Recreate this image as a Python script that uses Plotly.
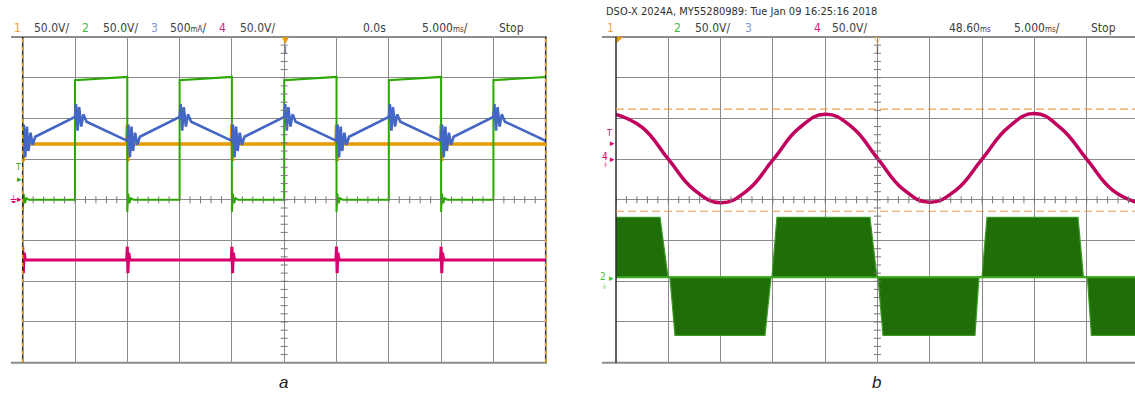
import plotly.graph_objects as go

W, H = 1135, 394

# ---------------- DATA ----------------
# Panel a: time in ms (5 ms/div, centred on 0.0 s), amplitude in screen divisions
a_time_range = [-25, 25]
green_fall_ms = [-25, -15, -5, 5, 15]
green_rise_ms = [-20, -10, 0, 10, 20]
green_low = 0.0
green_high_start = 2.94
green_high_end = 3.02
green_ring_dt = [0.0, 0.08, 0.2, 0.35, 0.6]
green_ring_val = [-0.3, 0.15, -0.08, 0.04, 0.0]

orange_level = 1.37
orange_spike_dt = [-0.06, 0.0, 0.06, 0.14, 0.24]
orange_spike_val = [1.37, 1.85, 0.95, 1.6, 1.37]

blue_dt = [0.0, 0.1, 0.25, 0.4, 0.55, 0.75, 0.95, 1.2, 5.0, 5.1, 5.25, 5.4, 5.6, 5.8, 6.1, 10.0]
blue_val = [1.45, 1.85, 1.05, 1.8, 1.2, 1.65, 1.35, 1.55, 2.04, 2.35, 1.7, 2.28, 1.8, 2.1, 1.92, 1.45]

pink_level = -1.48
pink_spike_dt = [-0.06, 0.0, 0.06, 0.14, 0.25]
pink_spike_val = [-1.48, -1.15, -1.8, -1.3, -1.48]

# Panel b: time in ms (5 ms/div, delay 48.60 ms)
b_time_range = [23.6, 73.22]
sine_t = [23.6, 26.1, 28.6, 31.1, 33.6, 36.1, 38.6, 41.1, 43.6, 46.1, 48.6,
          51.1, 53.6, 56.1, 58.6, 61.1, 63.6, 66.1, 68.6, 71.1, 73.6]
sine_v = [2.10, 1.78, 1.0, 0.24, -0.07, 0.22, 0.98, 1.76, 2.10, 1.80, 1.02,
          0.25, -0.06, 0.24, 1.0, 1.78, 2.12, 1.77, 1.0, 0.23, -0.08]

ch2b_zero = -1.9
ch2b_upper_t = [23.6, 27.81, 28.57, 38.51, 38.99, 47.88, 48.55, 58.59, 59.07, 67.77, 68.29, 73.22]
ch2b_upper_v = [-0.43, -0.43, -1.9, -1.9, -0.43, -0.43, -1.9, -1.9, -0.43, -0.43, -1.9, -1.9]
ch2b_lower_t = [23.6, 28.76, 29.24, 37.84, 38.42, 48.65, 49.13, 57.92, 58.30, 68.67, 69.05, 73.22]
ch2b_lower_v = [-1.9, -1.9, -3.33, -3.33, -1.9, -1.9, -3.33, -3.33, -1.9, -1.9, -3.33, -3.33]

cursor_b = [2.23, -0.28]

header_a = ["1", "50.0V/", "2", "50.0V/", "3", "500<span style='font-size:8px'>mA</span>/", "4", "50.0V/",
            "0.0s", "5.000<span style='font-size:8px'>ms</span>/", "Stop"]
header_b = ["1", "2", "50.0V/", "3", "4", "50.0V/",
            "48.60<span style='font-size:8px'>ms</span>", "5.000<span style='font-size:8px'>ms</span>/", "Stop"]
title_b = "DSO-X 2024A, MY55280989: Tue Jan 09 16:25:16 2018"
captions = ["a", "b"]

# ---------------- STYLE ----------------
C_OR = "#e89b00"
C_GR = "#2aa800"
C_BL = "#4466c4"
C_PK = "#d8006a"
C_PKB = "#c0005c"
C_GRB = "#1f6e08"
GRID = "#8a8a8a"
SCOPE_FONT = "Liberation Sans Narrow, DejaVu Sans Condensed, Arial Narrow, sans-serif"

# ---------------- BUILD SERIES ----------------
gx, gy = [], []
for i, f in enumerate(green_fall_ms):
    if i > 0:
        gx.append(f); gy.append(green_high_end)
    for dt, v in zip(green_ring_dt, green_ring_val):
        gx.append(f + dt); gy.append(green_low + v)
    r = green_rise_ms[i]
    gx += [r, r]; gy += [green_low, green_high_start]
gx.append(a_time_range[1]); gy.append(green_high_end)

ox, oy = [a_time_range[0]], [orange_level]
px_, py_ = [a_time_range[0]], [pink_level]
bx, by = [], []
for f in green_fall_ms:
    for dt, v in zip(orange_spike_dt, orange_spike_val):
        ox.append(f + dt); oy.append(v)
    for dt, v in zip(pink_spike_dt, pink_spike_val):
        px_.append(f + dt); py_.append(v)
    for dt, v in zip(blue_dt, blue_val):
        bx.append(f + dt); by.append(v)
ox.append(a_time_range[1]); oy.append(orange_level)
px_.append(a_time_range[1]); py_.append(pink_level)

fig = go.Figure()

# panel a traces
fig.add_trace(go.Scatter(x=ox, y=oy, mode="lines", line=dict(color=C_OR, width=3.5), xaxis="x", yaxis="y", hoverinfo="skip"))
fig.add_trace(go.Scatter(x=px_, y=py_, mode="lines", line=dict(color=C_PK, width=3), xaxis="x", yaxis="y", hoverinfo="skip"))
fig.add_trace(go.Scatter(x=gx, y=gy, mode="lines", line=dict(color=C_GR, width=2), xaxis="x", yaxis="y", hoverinfo="skip"))
fig.add_trace(go.Scatter(x=bx, y=by, mode="lines", line=dict(color=C_BL, width=2.6), xaxis="x", yaxis="y", hoverinfo="skip"))

# panel b traces
fig.add_trace(go.Scatter(x=ch2b_upper_t, y=ch2b_upper_v, mode="lines", line=dict(color="#3a9a20", width=1.2),
                         xaxis="x2", yaxis="y2", hoverinfo="skip"))
fig.add_trace(go.Scatter(x=ch2b_lower_t, y=ch2b_lower_v, mode="lines", line=dict(color="#3a9a20", width=1.2),
                         fill="tonexty", fillcolor=C_GRB, xaxis="x2", yaxis="y2", hoverinfo="skip"))
fig.add_trace(go.Scatter(x=b_time_range, y=[ch2b_zero, ch2b_zero], mode="lines", line=dict(color="#3aa81c", width=2),
                         xaxis="x2", yaxis="y2", hoverinfo="skip"))
fig.add_trace(go.Scatter(x=sine_t, y=sine_v, mode="lines", line=dict(color=C_PKB, width=3.5, shape="spline", smoothing=1.3),
                         xaxis="x2", yaxis="y2", hoverinfo="skip"))

# minor ticks on centre lines (decoration derived from axis ranges)
for xa, ya, rng, ctr in [("x", "y", a_time_range, 0.0), ("x2", "y2", b_time_range, 48.6)]:
    n = int((rng[1] - rng[0]))
    tx = [rng[0] + i for i in range(n + 1)]
    fig.add_trace(go.Scatter(x=tx, y=[0] * len(tx), mode="markers",
                             marker=dict(symbol="line-ns", size=5, line=dict(color="#777", width=1)),
                             xaxis=xa, yaxis=ya, hoverinfo="skip", cliponaxis=True))
    ty = [-4 + 0.2 * i for i in range(41)]
    fig.add_trace(go.Scatter(x=[ctr] * len(ty), y=ty, mode="markers",
                             marker=dict(symbol="line-ew", size=5, line=dict(color="#777", width=1)),
                             xaxis=xa, yaxis=ya, hoverinfo="skip", cliponaxis=True))

ax_common = dict(showgrid=True, gridcolor=GRID, gridwidth=1, zeroline=False, showticklabels=False,
                 ticks="", showline=False, fixedrange=True)
ydom = [1 - 362.7 / H, 1 - 37 / H]
fig.update_layout(
    width=W, height=H, margin=dict(l=0, r=0, t=0, b=0),
    paper_bgcolor="white", plot_bgcolor="white", showlegend=False,
    xaxis=dict(domain=[22.7 / W, 545.7 / W], range=a_time_range, tick0=0, dtick=5, anchor="y", **ax_common),
    yaxis=dict(domain=ydom, range=[-4, 4], tick0=0, dtick=1, anchor="x", **ax_common),
    xaxis2=dict(domain=[616 / W, 1], range=b_time_range, tick0=23.6, dtick=5, anchor="y2", **ax_common),
    yaxis2=dict(domain=ydom, range=[-4, 4], tick0=0, dtick=1, anchor="x2", **ax_common),
)

shapes = []
def hline_px(x0, x1, y, color, width):
    shapes.append(dict(type="line", xref="paper", yref="paper", x0=x0 / W, x1=x1 / W, y0=1 - y / H, y1=1 - y / H,
                       line=dict(color=color, width=width)))
hline_px(11, 547, 37, "#8c8c8c", 2)
hline_px(11, 547, 362.7, "#8c8c8c", 2)
hline_px(602, 1135, 37, "#8c8c8c", 2)
hline_px(602, 1135, 362.7, "#8c8c8c", 2)
for xr, yr, xv in [("x domain", "y domain", 0), ("x domain", "y domain", 1), ("x2 domain", "y2 domain", 0)]:
    shapes.append(dict(type="line", xref=xr, yref=yr, x0=xv, x1=xv, y0=0, y1=1, line=dict(color="#2a2a2a", width=1.5)))
for xv in [0, 1]:
    shapes.append(dict(type="line", xref="x domain", yref="y domain", x0=xv, x1=xv, y0=0, y1=1,
                       line=dict(color=C_OR, width=1.5, dash="4px,4px")))
for cy in cursor_b:
    shapes.append(dict(type="line", xref="x2 domain", yref="y2", x0=0, x1=1, y0=cy, y1=cy,
                       line=dict(color="#f0a050", width=1.2, dash="8px,4px")))
fig.update_layout(shapes=shapes)

ann = []
def text(x, y, s, color="#404040", size=12, anchor="left", family=SCOPE_FONT, italic=False):
    if italic:
        s = "<i>" + s + "</i>"
    ann.append(dict(xref="paper", yref="paper", x=x / W, y=1 - y / H, text=s, showarrow=False,
                    xanchor=anchor, yanchor="middle", font=dict(color=color, size=size, family=family)))

# header a
ha_x = [11.5, 32, 80, 101, 149, 168, 217, 238, 361, 420, 496.5]
ha_c = ["#f0a040", "#404040", "#40c040", "#404040", "#7a98dc", "#404040", "#e0207f", "#404040", "#404040", "#404040", "#404040"]
for s, x, c in zip(header_a, ha_x, ha_c):
    text(x, 28, s, color=c)
# header b
hb_x = [605, 672, 692.5, 742.5, 811.5, 830, 947, 1011.5, 1088.8]
hb_c = ["#f0a040", "#40c040", "#404040", "#7a98dc", "#e0207f", "#404040", "#404040", "#404040", "#404040"]
for s, x, c in zip(header_b, hb_x, hb_c):
    text(x, 28, s, color=c)
text(603.5, 12, title_b, color="#303030", size=11)

# captions
text(283, 382, captions[0], color="#222", size=17, anchor="center", family="Liberation Sans, Arial, sans-serif", italic=True)
text(876, 382, captions[1], color="#222", size=17, anchor="center", family="Liberation Sans, Arial, sans-serif", italic=True)

# trigger markers at top centre
text(285.5, 40, "▼", color=C_OR, size=9, anchor="center", family="DejaVu Sans")
text(285.5, 50, "I", color="#555", size=10, anchor="center")
text(877.5, 40, "▽", color=C_OR, size=9, anchor="center", family="DejaVu Sans")
text(877.5, 50, "I", color="#555", size=10, anchor="center")
text(620, 40, "◤", color=C_OR, size=8, anchor="center", family="DejaVu Sans")

# left-side channel markers, panel a
text(18, 167, "T", color=C_GR, size=9, anchor="center")
text(19, 179, "▸", color=C_GR, size=9, anchor="center", family="DejaVu Sans")
text(13, 199, "⏚", color=C_PK, size=10, anchor="center", family="DejaVu Sans")
text(19, 199, "▸", color=C_PK, size=9, anchor="center", family="DejaVu Sans")
# panel b
text(609, 133, "T", color=C_PK, size=9, anchor="center")
text(612, 143, "▸", color=C_PK, size=9, anchor="center", family="DejaVu Sans")
text(605, 157, "4", color=C_PK, size=10, anchor="center")
text(605, 165, "⏚", color=C_PK, size=7, anchor="center", family="DejaVu Sans")
text(612, 159, "▸", color=C_PK, size=9, anchor="center", family="DejaVu Sans")
text(603, 276, "2", color="#40c040", size=10, anchor="center")
text(611, 277.5, "▸", color="#40c040", size=9, anchor="center", family="DejaVu Sans")
text(604, 287, "⏚", color="#40c040", size=7, anchor="center", family="DejaVu Sans")

fig.update_layout(annotations=ann)
fig.write_html("out.html", config={"displayModeBar": False},
               post_script="document.body.style.margin='0';document.body.style.overflow='hidden';")
